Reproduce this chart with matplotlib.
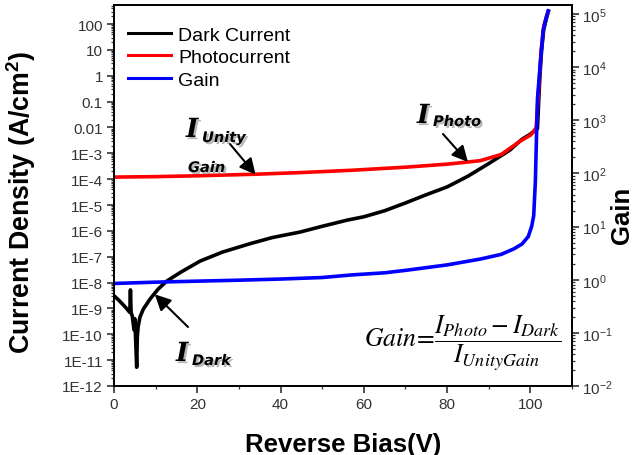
import matplotlib
matplotlib.use('Agg')
import matplotlib.pyplot as plt
from matplotlib.ticker import FixedLocator, FixedFormatter, LogLocator, MultipleLocator, NullFormatter
import matplotlib.patheffects as pe

plt.rcParams['font.family'] = ['Liberation Sans', 'DejaVu Sans']
plt.rcParams['mathtext.fontset'] = 'custom'
plt.rcParams['mathtext.rm'] = 'Liberation Sans'
plt.rcParams['mathtext.it'] = 'Liberation Sans:italic'
plt.rcParams['mathtext.bf'] = 'Liberation Sans:bold'

# ---- data ----
dark_v = [0, 1, 2, 3, 3.8, 3.95, 4.1, 4.4, 4.8, 5.0, 5.2, 5.45, 5.6, 5.8, 6.25, 7.05, 8.65,
          10.6, 12.7, 16, 20.7, 26, 32.7, 38, 44.7, 50, 56, 60, 65, 70, 75, 80, 85, 90, 95,
          98, 100, 101, 101.7, 102.0, 102.3, 102.7, 103.2, 103.8, 104.3]
dark_j = [3.1e-9, 2.2e-9, 1.5e-9, 1.0e-9, 7e-10, 5.2e-9, 7e-10, 5e-10, 1.5e-10, 4e-10, 6e-11,
          5.3e-12, 8e-11, 2e-10, 4.7e-10, 9.5e-10, 2.3e-9, 5.6e-9, 1.15e-8, 2.5e-8, 6.8e-8,
          1.5e-7, 3.2e-7, 5.5e-7, 9e-7, 1.5e-6, 2.6e-6, 3.5e-6, 6e-6, 1.2e-5, 2.5e-5, 5e-5,
          1.3e-4, 4e-4, 1.3e-3, 3.5e-3, 5.5e-3, 7.5e-3, 9e-3, 0.1, 1, 10, 60, 150, 300]

photo_v = [0, 10, 20, 34, 45, 57, 70, 80, 85, 88, 93, 97.6, 100, 100.7, 101.4, 101.8, 102.2,
           102.6, 103.2, 103.9, 104.3]
photo_j = [1.2e-4, 1.25e-4, 1.35e-4, 1.55e-4, 1.8e-4, 2.2e-4, 2.9e-4, 3.8e-4, 4.6e-4, 5.2e-4,
           9e-4, 3e-3, 5e-3, 6.6e-3, 1e-2, 0.1, 1, 10, 80, 200, 300]

gain_v = [0, 10, 20, 30, 40, 50, 57, 65, 70, 80, 88, 93, 96, 98, 99.5, 100.3, 100.8, 101.2,
          101.7, 102.5, 103.1, 103.7, 104.3]
gain_g = [0.85, 0.9, 0.94, 0.98, 1.03, 1.1, 1.23, 1.35, 1.5, 1.9, 2.45, 3.0, 3.8, 4.7, 6.5,
          10, 16, 70, 2500, 1.5e4, 5e4, 8e4, 1.15e5]

x_ticks = [0, 20, 40, 60, 80, 100]
left_ticks = [1e-12, 1e-11, 1e-10, 1e-9, 1e-8, 1e-7, 1e-6, 1e-5, 1e-4, 1e-3, 1e-2, 1e-1, 1, 10, 100]
left_labels = ['1E-12', '1E-11', '1E-10', '1E-9', '1E-8', '1E-7', '1E-6', '1E-5', '1E-4',
               '1E-3', '0.01', '0.1', '1', '10', '100']
right_ticks = [1e-2, 1e-1, 1, 10, 100, 1e3, 1e4, 1e5]

W, H = 637, 456
fig = plt.figure(figsize=(W / 100, H / 100), dpi=100)
ax = fig.add_axes([114 / W, 1 - 387 / H, 458 / W, 381 / H])
ax2 = ax.twinx()

l1, = ax.plot(dark_v, dark_j, color='black', lw=2.6, label='Dark Current')
l2, = ax.plot(photo_v, photo_j, color='#ff0000', lw=2.6, label='Photocurrent')
l3, = ax2.plot(gain_v, gain_g, color='#0000ff', lw=2.6, label='Gain')

ax.set_xlim(0, 110)
ax.set_yscale('log')
ax.set_ylim(1e-12, 10 ** 2.735)
ax2.set_yscale('log')
ax2.set_ylim(1e-2, 10 ** 5.17)

ax.xaxis.set_major_locator(FixedLocator(x_ticks))
ax.xaxis.set_minor_locator(MultipleLocator(10))
ax.yaxis.set_major_locator(FixedLocator(left_ticks))
ax.yaxis.set_major_formatter(FixedFormatter(left_labels))
ax.yaxis.set_minor_locator(LogLocator(base=10, subs=range(2, 10), numticks=100))
ax.yaxis.set_minor_formatter(NullFormatter())
ax2.yaxis.set_major_locator(FixedLocator(right_ticks))
ax2.yaxis.set_minor_locator(LogLocator(base=10, subs=range(2, 10), numticks=100))
ax2.yaxis.set_minor_formatter(NullFormatter())

for a in (ax, ax2):
    for s in a.spines.values():
        s.set_linewidth(1.3)
    a.tick_params(which='major', direction='out', length=5, width=1.2, labelsize=11,
                  colors='#333333', labelcolor='#333333', pad=3)
    a.tick_params(which='minor', direction='out', length=2.5, width=0.9, colors='#333333')
ax2.tick_params(which='major', pad=2)

ax.set_xlabel('Reverse Bias(V)', fontsize=18.5, fontweight='bold')
ax.xaxis.set_label_coords(0.5, -0.12)
ax.set_ylabel('Current Density (A/cm$\\mathbf{^2}$)', fontsize=19.3, fontweight='bold')
ax.yaxis.set_label_coords(-0.165, 0.485)
ax2.set_ylabel('Gain', fontsize=18.5, fontweight='bold')
ax2.yaxis.set_label_coords(1.083, 0.45)

leg = ax.legend(handles=[l1, l2, l3], loc='upper left', bbox_to_anchor=(0.03, 0.945),
                frameon=False, fontsize=14, handlelength=2.2, handletextpad=0.4,
                labelspacing=0.25, borderpad=0, borderaxespad=0)
for ln in leg.get_lines():
    ln.set_linewidth(2.2)


def fpos(px, py):
    return (px / W, 1 - py / H)


shadow = [pe.SimplePatchShadow(offset=(1.5, -1.5), shadow_rgbFace='#888888', alpha=0.6), pe.Normal()]
big_I = dict(family='DejaVu Serif', fontsize=19, fontweight='bold', style='italic')
sub = dict(family='DejaVu Sans', fontsize=10.5, fontweight='bold', style='italic')

# I_Unity Gain
fig.text(*fpos(186, 138), 'I', ha='left', va='baseline', path_effects=shadow, **big_I)
fig.text(*fpos(202, 143), 'Unity', ha='left', va='baseline', path_effects=shadow, **sub)
fig.text(*fpos(188, 173), 'Gain', ha='left', va='baseline', path_effects=shadow, **sub)
# I_Photo
fig.text(*fpos(417, 124), 'I', ha='left', va='baseline', path_effects=shadow, **big_I)
fig.text(*fpos(433, 127), 'Photo', ha='left', va='baseline', path_effects=shadow, **sub)
# I_Dark
fig.text(*fpos(176, 362), 'I', ha='left', va='baseline', path_effects=shadow, **big_I)
fig.text(*fpos(192, 366), 'Dark', ha='left', va='baseline', path_effects=shadow, **sub)

arrow = dict(arrowstyle='-|>', color='black', lw=1.5, mutation_scale=24, shrinkA=0, shrinkB=0)
ax.annotate('', xy=(34, 1.5e-4), xycoords='data', xytext=fpos(230, 145),
            textcoords='figure fraction', arrowprops=arrow)
ax.annotate('', xy=(85, 4.6e-4), xycoords='data', xytext=fpos(443, 135),
            textcoords='figure fraction', arrowprops=arrow)
ax.annotate('', xy=(9.8, 3.5e-9), xycoords='data', xytext=fpos(188, 328),
            textcoords='figure fraction', arrowprops=arrow)

fig.text(*fpos(364, 343), r'$Gain\!=\!\dfrac{I_{Photo}-I_{Dark}}{I_{UnityGain}}$',
         math_fontfamily='stix', fontsize=18.5, ha='left', va='center', color='black')

fig.savefig('out.png', dpi=100)
